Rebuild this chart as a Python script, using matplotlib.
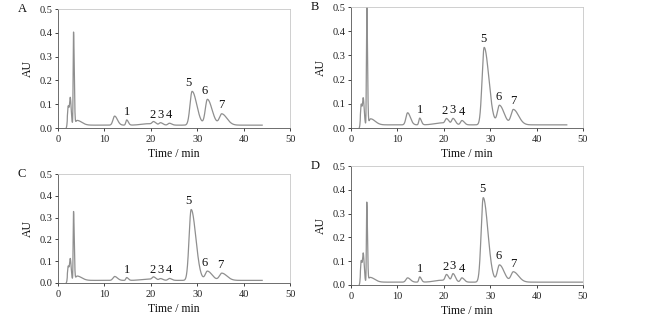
#!/usr/bin/env python3
"""
HPLC chromatograms of four samples (panels A-D)
"""

import numpy as np
import matplotlib.pyplot as plt

plt.rcParams['font.family'] = ['Liberation Serif', 'DejaVu Serif']

# Peak tables: retention time (min), height (AU), left width, right width (min)
panel_names = ['A', 'B', 'C', 'D']
baseline = [0.012, 0.013, 0.012, 0.012]
run_end = [44.0, 46.5, 44.0, 50.0]

peaks_A_time = [2.2, 2.65, 3.35, 4.1, 12.2, 14.8, 19.5, 20.6, 22.1, 24.0, 28.9, 32.2, 35.3]
peaks_A_height = [0.08, 0.11, 0.39, 0.02, 0.038, 0.022, 0.006, 0.012, 0.010, 0.008, 0.142, 0.108, 0.047]
peaks_A_left = [0.15, 0.15, 0.08, 0.3, 0.35, 0.18, 1.5, 0.3, 0.3, 0.3, 0.45, 0.45, 0.5]
peaks_A_right = [0.2, 0.2, 0.15, 1.0, 0.6, 0.35, 1.0, 0.5, 0.5, 0.5, 1.0, 1.0, 1.1]

peaks_B_time = [2.2, 2.65, 3.4, 4.2, 12.2, 14.8, 19.5, 20.6, 22.0, 23.9, 28.7, 32.0, 35.0]
peaks_B_height = [0.085, 0.105, 0.52, 0.025, 0.05, 0.028, 0.008, 0.022, 0.026, 0.018, 0.32, 0.08, 0.063]
peaks_B_left = [0.15, 0.15, 0.08, 0.3, 0.35, 0.18, 1.5, 0.3, 0.3, 0.3, 0.45, 0.45, 0.5]
peaks_B_right = [0.2, 0.2, 0.15, 1.0, 0.6, 0.35, 1.0, 0.5, 0.5, 0.5, 1.0, 1.0, 1.1]

peaks_C_time = [2.2, 2.65, 3.35, 4.1, 12.2, 14.8, 19.5, 20.6, 22.1, 24.0, 28.7, 32.2, 35.3]
peaks_C_height = [0.065, 0.095, 0.315, 0.02, 0.018, 0.013, 0.006, 0.013, 0.008, 0.009, 0.325, 0.042, 0.033]
peaks_C_left = [0.15, 0.15, 0.08, 0.3, 0.35, 0.18, 1.5, 0.3, 0.3, 0.3, 0.45, 0.45, 0.5]
peaks_C_right = [0.2, 0.2, 0.15, 1.0, 0.6, 0.35, 1.0, 0.5, 0.5, 0.5, 1.0, 1.0, 1.1]

peaks_D_time = [2.2, 2.65, 3.4, 4.1, 12.2, 14.8, 19.5, 20.6, 22.0, 23.9, 28.5, 32.0, 35.0]
peaks_D_height = [0.09, 0.115, 0.335, 0.02, 0.018, 0.022, 0.008, 0.028, 0.035, 0.018, 0.355, 0.072, 0.043]
peaks_D_left = [0.15, 0.15, 0.08, 0.3, 0.35, 0.18, 1.5, 0.3, 0.3, 0.3, 0.45, 0.45, 0.5]
peaks_D_right = [0.2, 0.2, 0.15, 1.0, 0.6, 0.35, 1.0, 0.5, 0.5, 0.5, 1.0, 1.0, 1.1]

# Peak number labels: text, x (min), y (AU) per panel
label_text = ['1', '2', '3', '4', '5', '6', '7']
labels_A_x = [14.8, 20.4, 22.1, 24.0, 28.2, 31.5, 35.3]
labels_A_y = [0.04, 0.028, 0.028, 0.028, 0.165, 0.13, 0.07]
labels_B_x = [14.8, 20.2, 21.9, 23.8, 28.5, 31.8, 34.9]
labels_B_y = [0.05, 0.045, 0.05, 0.04, 0.345, 0.105, 0.085]
labels_C_x = [14.8, 20.4, 22.1, 24.0, 28.2, 31.5, 35.0]
labels_C_y = [0.03, 0.03, 0.03, 0.03, 0.35, 0.065, 0.055]
labels_D_x = [14.8, 20.3, 21.8, 23.8, 28.3, 31.8, 34.9]
labels_D_y = [0.04, 0.05, 0.055, 0.04, 0.38, 0.095, 0.065]

peak_tables = [
    (peaks_A_time, peaks_A_height, peaks_A_left, peaks_A_right),
    (peaks_B_time, peaks_B_height, peaks_B_left, peaks_B_right),
    (peaks_C_time, peaks_C_height, peaks_C_left, peaks_C_right),
    (peaks_D_time, peaks_D_height, peaks_D_left, peaks_D_right),
]
label_tables = [
    (labels_A_x, labels_A_y), (labels_B_x, labels_B_y),
    (labels_C_x, labels_C_y), (labels_D_x, labels_D_y),
]

# axes rectangles in pixels: left, right, top, bottom
W, H = 667, 321
boxes = [(58, 290, 9, 128), (351, 583, 7, 128), (58, 290, 174, 283), (351, 583, 166, 285)]


def build_trace(table, base, t_end):
    """Sum of asymmetric gaussian peaks on a flat baseline"""
    t = np.linspace(1.8, t_end, 4000)
    y = np.full_like(t, base)
    y[t < 2.0] = 0.0
    for rt, h, wl, wr in zip(*table):
        s = np.where(t < rt, wl, wr)
        y = y + h * np.exp(-0.5 * ((t - rt) / s) ** 2)
    return t, y


fig = plt.figure(figsize=(W / 100, H / 100), dpi=100)

for i, name in enumerate(panel_names):
    l, r, top, bot = boxes[i]
    ax = fig.add_axes([l / W, 1 - bot / H, (r - l) / W, (bot - top) / H])
    t, y = build_trace(peak_tables[i], baseline[i], run_end[i])
    ax.plot(t, np.minimum(y, 0.52), color='#8f8f8f', lw=0.9, clip_on=True)

    for txt, lx, ly in zip(label_text, *label_tables[i]):
        ax.text(lx, ly, txt, ha='center', va='bottom', fontsize=9, color='#111111')

    ax.set_xlim(0, 50)
    ax.set_ylim(0, 0.5)
    ax.set_xticks([0, 10, 20, 30, 40, 50])
    ax.set_yticks([0.0, 0.1, 0.2, 0.3, 0.4, 0.5])
    ax.yaxis.set_major_formatter(plt.FuncFormatter(lambda v, p: f'{v:.1f}'))
    ax.tick_params(labelsize=7.5, length=2, width=0.6, colors='#222222')
    ax.tick_params(axis='x', pad=3)
    ax.tick_params(axis='y', pad=2)
    for side in ['top', 'right']:
        ax.spines[side].set_color('#c8c8c8')
        ax.spines[side].set_linewidth(0.6)
    for side in ['left', 'bottom']:
        ax.spines[side].set_color('#555555')
        ax.spines[side].set_linewidth(0.6)

    ax.set_xlabel('Time / min', fontsize=8.5, labelpad=3, color='#111111')
    ax.set_ylabel('AU', fontsize=8.5, labelpad=4, color='#111111')
    ax.text(-0.155, 1.0, name, transform=ax.transAxes, fontsize=9,
            ha='center', va='center', color='#111111')

fig.savefig('out.png', dpi=100)
plt.close(fig)
